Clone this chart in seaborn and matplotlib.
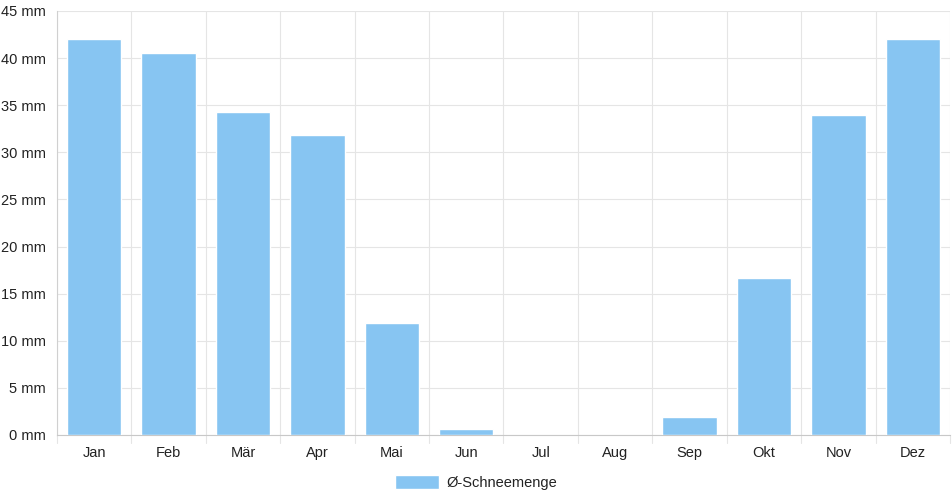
import matplotlib
matplotlib.use("Agg")
import matplotlib.pyplot as plt
import pandas as pd
import seaborn as sns
from matplotlib.patches import Patch

months = ["Jan", "Feb", "Mär", "Apr", "Mai", "Jun", "Jul", "Aug", "Sep", "Okt", "Nov", "Dez"]
snow = [42.0, 40.55, 34.3, 31.85, 11.9, 0.6, 0, 0, 1.95, 16.7, 34.0, 42.0]
yticks = [0, 5, 10, 15, 20, 25, 30, 35, 40, 45]
series_name = "Ø-Schneemenge"
bar_color = "#87C5F2"

df = pd.DataFrame({"month": months, "snow": snow})

sns.set_style("white")
plt.rcParams["font.family"] = ["Liberation Sans", "DejaVu Sans"]

fig = plt.figure(figsize=(9.52, 5), dpi=100)
ax = fig.add_axes([57 / 952, 65 / 500, 893 / 952, 424 / 500])

sns.barplot(data=df, x="month", y="snow", color=bar_color, width=0.73,
            saturation=1, ax=ax, zorder=3)

ax.set_xlim(-0.5, 11.5)
ax.set_ylim(0, 45)
ax.set_yticks(yticks)
ax.set_yticklabels([f"{v} mm" for v in yticks])
ax.set_xlabel("")
ax.set_ylabel("")

# grid lines at the category boundaries, like the original
for b in [i - 0.5 for i in range(13)]:
    ax.axvline(b, color="#e5e5e5", lw=0.8, zorder=0)
    ax.plot([b, b], [0, -0.9], color="#e5e5e5", lw=0.8, clip_on=False)
for v in yticks:
    ax.axhline(v, color="#e5e5e5", lw=0.8, zorder=0)

for s in ["top", "right"]:
    ax.spines[s].set_visible(False)
ax.spines["left"].set_color("#d0d0d0")
ax.spines["bottom"].set_color("#c8c8c8")
ax.tick_params(axis="both", length=5, color="#e5e5e5", labelsize=10.5,
               labelcolor="#222222", pad=3)
ax.tick_params(axis="x", length=0, pad=8)

fig.legend(handles=[Patch(facecolor=bar_color, label=series_name)],
           loc="center", bbox_to_anchor=(0.5, 0.035), frameon=False,
           fontsize=10.5, handlelength=3, handleheight=1.1, handletextpad=0.5,
           labelcolor="#222222")

fig.savefig("out.png", dpi=100)
